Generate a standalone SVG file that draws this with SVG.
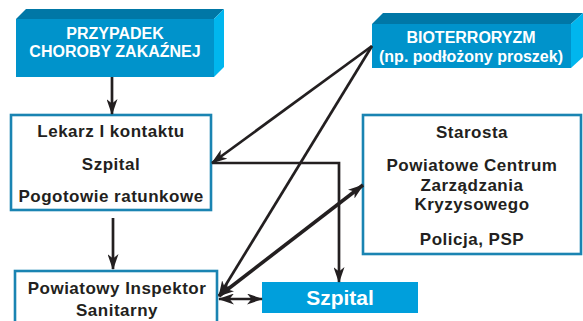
<svg xmlns="http://www.w3.org/2000/svg" width="583" height="321" viewBox="0 0 583 321">
  <style>
    .front { fill: #0093cb; }
    .top { fill: #0077a6; }
    .side { fill: #00b6ee; }
    .flat { fill: #009fdc; }
    .frame { fill: #ffffff; stroke: #1a84b2; stroke-width: 2.6; }
    .wt { font-family: "Liberation Sans", Arial, sans-serif; font-weight: bold; fill: #ffffff; text-anchor: middle; }
    .bt { font-family: "Liberation Sans", Arial, sans-serif; font-weight: bold; fill: #231f20; text-anchor: middle; font-size: 17px; letter-spacing: 0.5px; }
    .ln { fill: none; stroke: #231f20; stroke-width: 2.7; }
    .thick { stroke-width: 3.6; }
  </style>
  <defs>
    <marker id="head" viewBox="0 0 16 11" refX="15" refY="5.5" markerUnits="userSpaceOnUse" markerWidth="16" markerHeight="11" orient="auto-start-reverse">
      <path d="M0,0 L16,5.5 L0,11 L4.5,5.5 z" fill="#231f20"/>
    </marker>
  </defs>

  <rect width="583" height="321" fill="#ffffff"/>

  <g id="przypadek">
    <polygon class="top" points="16,19 26,9 224,9 214,19"/>
    <polygon class="side" points="214,19 224,9 224,67 214,77"/>
    <rect class="front" x="16" y="19" width="198" height="58"/>
    <text class="wt" font-size="16" x="115" y="39">PRZYPADEK</text>
    <text class="wt" font-size="16" x="115" y="57">CHOROBY ZAKAŹNEJ</text>
  </g>

  <g id="bioterroryzm">
    <polygon class="top" points="372,24 383,13 583,13 571,24"/>
    <polygon class="side" points="571,24 583,13 583,57 571,68"/>
    <rect class="front" x="372" y="24" width="199" height="44"/>
    <text class="wt" font-size="16" x="471" y="43">BIOTERRORYZM</text>
    <text class="wt" font-size="16" x="471" y="62">(np. podłożony proszek)</text>
  </g>

  <g id="lekarz">
    <rect class="frame" x="11" y="115" width="200" height="95"/>
    <text class="bt" x="111" y="137">Lekarz I kontaktu</text>
    <text class="bt" x="111" y="170">Szpital</text>
    <text class="bt" x="111" y="202">Pogotowie ratunkowe</text>
  </g>

  <g id="starosta">
    <rect class="frame" x="363" y="115" width="218" height="139"/>
    <text class="bt" x="472" y="138">Starosta</text>
    <text class="bt" x="472" y="171">Powiatowe Centrum</text>
    <text class="bt" x="472" y="191">Zarządzania</text>
    <text class="bt" x="472" y="210">Kryzysowego</text>
    <text class="bt" x="472" y="245">Policja, PSP</text>
  </g>

  <g id="inspektor">
    <rect class="frame" x="15" y="271" width="202" height="60"/>
    <text class="bt" x="117" y="294">Powiatowy Inspektor</text>
    <text class="bt" x="117" y="316">Sanitarny</text>
  </g>

  <g id="szpital">
    <rect class="flat" x="262" y="282" width="156" height="31"/>
    <text class="wt" font-size="21" x="340" y="305">Szpital</text>
  </g>

  <g id="connectors">
    <line class="ln" x1="112" y1="77" x2="112" y2="114" marker-end="url(#head)"/>
    <line class="ln" x1="113" y1="218" x2="113" y2="269" marker-end="url(#head)"/>
    <line class="ln" x1="372" y1="46" x2="212" y2="163" marker-end="url(#head)"/>
    <line class="ln" x1="372" y1="46" x2="219" y2="296" marker-end="url(#head)"/>
    <polyline class="ln" points="212,163 339,163 339,282" marker-end="url(#head)"/>
    <line class="ln thick" x1="219" y1="296" x2="363" y2="185" marker-start="url(#head)" marker-end="url(#head)"/>
    <line class="ln" x1="219" y1="299" x2="262" y2="299" marker-start="url(#head)" marker-end="url(#head)"/>
  </g>
</svg>
